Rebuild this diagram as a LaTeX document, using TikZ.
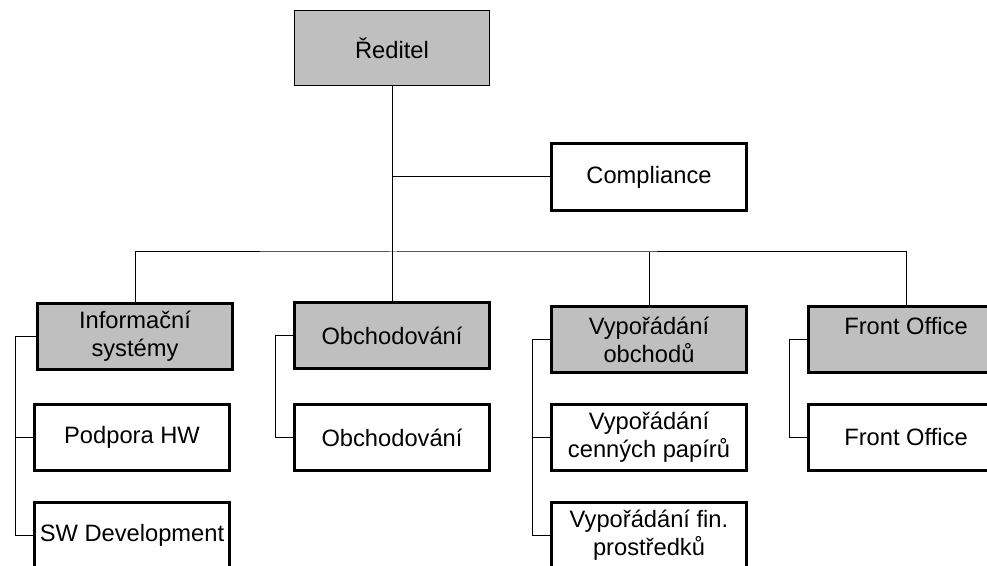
\documentclass[tikz,border=0pt]{standalone}
\usepackage{fontspec}
\setmainfont{Liberation Sans}

\begin{document}
\begin{tikzpicture}[x=0.5pt, y=-0.5pt,
    line width=0.5pt,
    box/.style={draw, line width=1.4pt, minimum width=97.6pt,
        minimum height=33.2pt, inner sep=0pt, align=center,
        font=\fontsize{11.85}{14}\selectfont},
    head/.style={box, fill=black!25}]
    \clip (0,0) rectangle (987,566);
    \node[head, line width=0.8pt, minimum height=37.6pt] (red) at (392,48) {Ředitel};
    \node[box] (comp) at (649,177) {Compliance};
    \node[head] (is) at (135,336.5) {Informační\\systémy};
    \node[head] (ob) at (392,335.5) {Obchodování};
    \node[head] (vy) at (649,339.5) {Vypořádání\\obchodů};
    \node[head] (fo) at (906,339.5) {Front Office\\\mbox{}};
    \node[box] (hw) at (132,437.5) {Podpora HW};
    \node[box] (sw) at (132,535.5) {SW Development};
    \node[box] (ob2) at (392,437.5) {Obchodování};
    \node[box] (vcp) at (649,437.5) {Vypořádání\\cenných papírů};
    \node[box] (vfp) at (649,535.5) {Vypořádání fin.\\prostředků};
    \node[box] (fo2) at (906,437.5) {Front Office};
    \coordinate (bus) at (392,252);
    \draw (red) -- (ob);
    \draw (red.south |- comp.west) -- (comp.west);
    \draw (is.north) |- (bus) -| (fo.north);
    \draw (bus -| vy.north) -- (vy.north);
    \draw (is.west) -- +(-21,0) |- (hw.west);
    \draw (is.west) -- +(-21,0) |- (sw.west);
    \draw (ob.west) -- +(-18,0) |- (ob2.west);
    \draw (vy.west) -- +(-18,0) |- (vcp.west);
    \draw (vy.west) -- +(-18,0) |- (vfp.west);
    \draw (fo.west) -- +(-18,0) |- (fo2.west);
\end{tikzpicture}
\end{document}
